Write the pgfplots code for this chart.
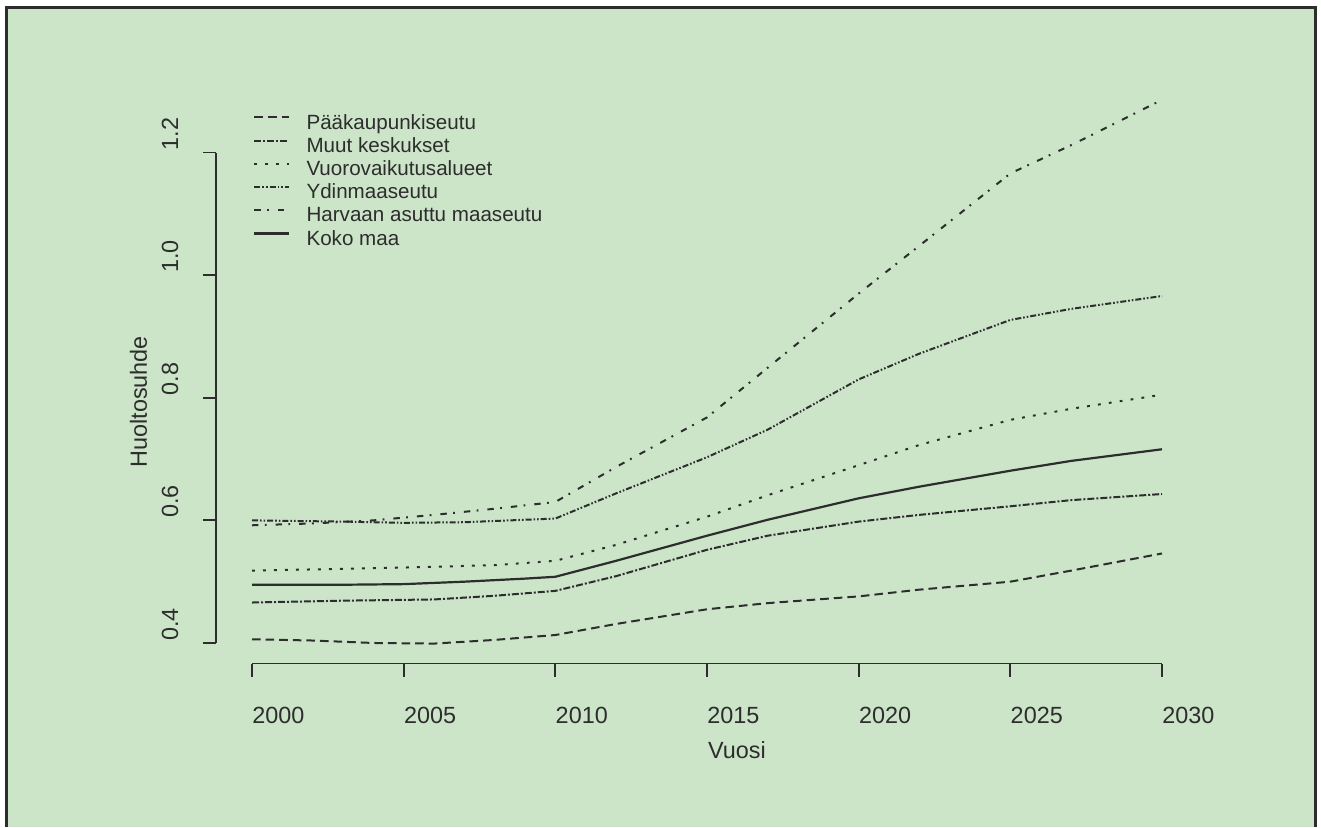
\documentclass[border=0pt]{standalone}
\usepackage{fontspec}
\setmainfont{Liberation Sans}
\usepackage{pgfplots}
\pgfplotsset{compat=1.18}

\definecolor{panel}{RGB}{204,229,201}
\definecolor{ink}{RGB}{45,45,45}

\begin{document}
\begin{tikzpicture}
\useasboundingbox (0,0) rectangle (660.5pt,413.5pt);
% page background and frame
\fill[white] (0,0) rectangle (660.5pt,413.5pt);
\fill[panel] (3pt,0) rectangle (657.75pt,409.65pt);
\draw[ink, line width=1.5pt] (3pt,0) -- (3pt,409.65pt) -- (657.75pt,409.65pt) -- (657.75pt,0);

\begin{axis}[
  at={(108pt,81.75pt)}, anchor=south west,
  scale only axis, width=491pt, height=292.7pt,
  xmin=1998.813, xmax=2031.187, ymin=0.3665, ymax=1.3215,
  clip=false,
  axis line style={draw=none},
  xtick={2000,2005,2010,2015,2020,2025,2030},
  xticklabels={2000,2005,2010,2015,2020,2025,2030},
  ytick={0.4,0.6,0.8,1.0,1.2},
  yticklabels={0.4,0.6,0.8,1.0,1.2},
  tick pos=left,
  tick align=outside, major tick length=6.5pt,
  tick style={ink, line width=0.9pt},
  tick label style={font=\fontsize{11.7}{14}\selectfont, text=ink, inner sep=0pt},
  xticklabel style={anchor=base west, yshift=-23.6pt},
  yticklabel style={xshift=-12.5pt, yshift=1pt, rotate=90, anchor=base west},
  xlabel={Vuosi}, ylabel={Huoltosuhde},
  label style={font=\fontsize{11.7}{14}\selectfont, text=ink, inner sep=0pt},
  xlabel style={at={(axis description cs:0.5007,-0.1614)}, anchor=base west},
  ylabel style={at={(axis description cs:-0.0703,0.334)}, anchor=base west},
  legend cell align=left,
  legend style={draw=none, fill=none, at={(axis description cs:0.038,0.938)},
    anchor=north west, inner sep=0pt, outer sep=0pt, row sep=2.1pt, column sep=8pt,
    font=\fontsize{10.3}{12}\selectfont, text=ink,
    nodes={inner sep=0pt, text height=7.3pt, text depth=2.2pt}},
  legend image code/.code={\draw[#1] (0pt,3.25pt) -- (17.5pt,3.25pt);},
]

% detached axis lines
\draw[ink, line width=0.9pt] (axis cs:2000,0.3665) -- (axis cs:2030,0.3665);
\draw[ink, line width=0.9pt] (axis cs:1998.813,0.4) -- (axis cs:1998.813,1.2);

% Paakaupunkiseutu
\addplot[ink, line width=1pt, dash pattern=on 4.3pt off 2.5pt] table {
2000 0.406
2002 0.404
2004 0.400
2006 0.399
2008 0.405
2010 0.413
2012 0.431
2015 0.455
2017 0.465
2020 0.476
2022 0.487
2025 0.500
2027 0.518
2030 0.546
};
\addlegendentry{Pääkaupunkiseutu}

% Muut keskukset
\addplot[ink, line width=1pt, dash pattern=on 3.5pt off 1pt on 1pt off 1pt] table {
2000 0.466
2001 0.467
2003 0.469
2006 0.471
2008 0.477
2010 0.485
2012 0.509
2015 0.552
2017 0.575
2020 0.598
2022 0.609
2025 0.623
2027 0.633
2030 0.643
};
\addlegendentry{Muut keskukset}

% Vuorovaikutusalueet
\addplot[ink, line width=1pt, dash pattern=on 1.4pt off 4.1pt] table {
2000 0.518
2002 0.520
2005 0.523
2008 0.527
2010 0.534
2012 0.560
2015 0.606
2017 0.641
2020 0.690
2022 0.723
2025 0.764
2027 0.782
2030 0.805
};
\addlegendentry{Vuorovaikutusalueet}

% Ydinmaaseutu
\addplot[ink, line width=1pt, dash pattern=on 3pt off 1pt on 0.8pt off 1pt on 0.8pt off 1pt] table {
2000 0.600
2003 0.598
2005 0.596
2007 0.597
2008 0.599
2010 0.603
2012 0.644
2015 0.703
2017 0.748
2020 0.830
2022 0.872
2025 0.927
2027 0.945
2030 0.966
};
\addlegendentry{Ydinmaaseutu}

% Harvaan asuttu maaseutu
\addplot[ink, line width=1pt, dash pattern=on 3.2pt off 3.2pt on 0.9pt off 4.5pt] table {
2000 0.592
2002 0.595
2004 0.600
2006 0.609
2008 0.619
2010 0.630
2012 0.687
2015 0.768
2017 0.849
2020 0.970
2022 1.048
2025 1.166
2027 1.212
2030 1.286
};
\addlegendentry{Harvaan asuttu maaseutu}

% Koko maa
\addplot[ink, line width=1.1pt] table {
2000 0.495
2003 0.495
2005 0.496
2007 0.500
2009 0.505
2010 0.508
2012 0.534
2015 0.575
2017 0.601
2020 0.636
2022 0.655
2025 0.681
2027 0.697
2030 0.716
};
\addlegendentry{Koko maa}
\end{axis}
\end{tikzpicture}
\end{document}
